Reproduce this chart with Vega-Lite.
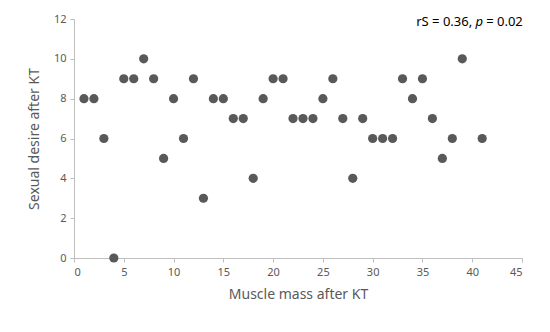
{
  "$schema": "https://vega.github.io/schema/vega-lite/v6.json",
  "width": 448,
  "height": 239,
  "autosize": {"type": "none"},
  "padding": {"left": 74, "top": 19, "right": 28, "bottom": 74},
  "background": "white",
  "config": {
    "view": {"stroke": null},
    "font": "Noto Sans",
    "axis": {
      "grid": false,
      "domainColor": "#bfbfbf",
      "tickColor": "#bfbfbf",
      "tickSize": 4,
      "labelColor": "#595959",
      "labelFontSize": 11,
      "labelOverlap": false,
      "titleColor": "#595959",
      "titleFontSize": 14,
      "titleFontWeight": "normal"
    }
  },
  "layer": [
    {
      "data": {
        "values": [
          {"mass": 1, "desire": 8}, {"mass": 2, "desire": 8}, {"mass": 3, "desire": 6},
          {"mass": 4, "desire": 0}, {"mass": 5, "desire": 9}, {"mass": 6, "desire": 9},
          {"mass": 7, "desire": 10}, {"mass": 8, "desire": 9}, {"mass": 9, "desire": 5},
          {"mass": 10, "desire": 8}, {"mass": 11, "desire": 6}, {"mass": 12, "desire": 9},
          {"mass": 13, "desire": 3}, {"mass": 14, "desire": 8}, {"mass": 15, "desire": 8},
          {"mass": 16, "desire": 7}, {"mass": 17, "desire": 7}, {"mass": 18, "desire": 4},
          {"mass": 19, "desire": 8}, {"mass": 20, "desire": 9}, {"mass": 21, "desire": 9},
          {"mass": 22, "desire": 7}, {"mass": 23, "desire": 7}, {"mass": 24, "desire": 7},
          {"mass": 25, "desire": 8}, {"mass": 26, "desire": 9}, {"mass": 27, "desire": 7},
          {"mass": 28, "desire": 4}, {"mass": 29, "desire": 7}, {"mass": 30, "desire": 6},
          {"mass": 31, "desire": 6}, {"mass": 32, "desire": 6}, {"mass": 33, "desire": 9},
          {"mass": 34, "desire": 8}, {"mass": 35, "desire": 9}, {"mass": 36, "desire": 7},
          {"mass": 37, "desire": 5}, {"mass": 38, "desire": 6}, {"mass": 39, "desire": 10},
          {"mass": 41, "desire": 6}
        ]
      },
      "mark": {"type": "point", "filled": true, "size": 85, "color": "#595959", "opacity": 1},
      "encoding": {
        "x": {
          "field": "mass", "type": "quantitative",
          "scale": {"domain": [0, 45], "nice": false},
          "axis": {"values": [0,5,10,15,20,25,30,35,40,45], "title": "Muscle mass after KT", "labelPadding": 4, "titlePadding": 10}
        },
        "y": {
          "field": "desire", "type": "quantitative",
          "scale": {"domain": [0, 12], "nice": false},
          "axis": {"values": [0,2,4,6,8,10,12], "title": "Sexual desire after KT", "labelPadding": 4, "titlePadding": 12}
        }
      }
    },
    {
      "data": {"values": [{"label1": "rS = 0.36,", "label2": "p", "label3": "= 0.02", "ax": 40.7, "ay": 11.85}]},
      "layer": [
        {
          "mark": {"type": "text", "align": "right", "baseline": "middle", "fontSize": 13, "color": "#000000", "dx": -7},
          "encoding": {"text": {"field": "label1"}}
        },
        {
          "mark": {"type": "text", "align": "center", "baseline": "middle", "fontSize": 13, "fontStyle": "italic", "color": "#000000"},
          "encoding": {"text": {"field": "label2"}}
        },
        {
          "mark": {"type": "text", "align": "left", "baseline": "middle", "fontSize": 13, "color": "#000000", "dx": 7},
          "encoding": {"text": {"field": "label3"}}
        }
      ],
      "encoding": {
        "x": {"field": "ax", "type": "quantitative", "axis": {"values": [0,5,10,15,20,25,30,35,40,45], "title": "Muscle mass after KT", "labelPadding": 4, "titlePadding": 10}},
        "y": {"field": "ay", "type": "quantitative", "axis": {"values": [0,2,4,6,8,10,12], "title": "Sexual desire after KT", "labelPadding": 4, "titlePadding": 12}}
      }
    }
  ]
}
